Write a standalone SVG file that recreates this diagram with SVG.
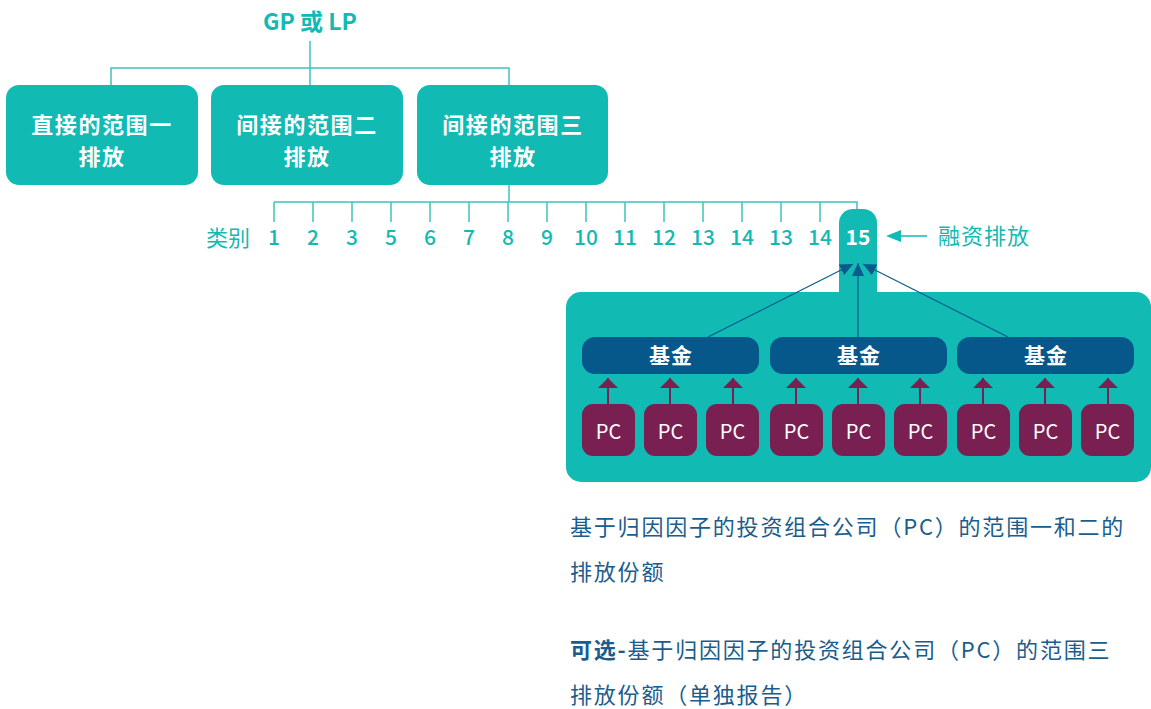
<svg xmlns="http://www.w3.org/2000/svg" width="1151" height="709" viewBox="0 0 1151 709">
<style>
text{font-family:"Noto Sans CJK SC","Noto Sans",sans-serif;}
.tl{fill:none;stroke:#3FC2BC;stroke-width:1.5;}
.box{fill:#12BAB4;}
.bt{fill:#fff;font-size:22px;font-weight:700;letter-spacing:1.6px;text-anchor:middle;dominant-baseline:central;}
.num{fill:#12BAB4;font-size:21px;font-weight:500;text-anchor:middle;}
.fund{fill:#06578A;}
.ft{fill:#fff;font-size:21px;font-weight:700;letter-spacing:1px;text-anchor:middle;dominant-baseline:central;}
.pc{fill:#7A1F52;}
.pt{fill:#fff;font-size:20px;text-anchor:middle;dominant-baseline:central;}
.pa{stroke:#7A1F52;stroke-width:2;}
.ba{stroke:#0A5A8C;stroke-width:1.2;fill:none;}
.note{fill:#1A5D8D;font-size:22px;letter-spacing:1.8px;dominant-baseline:central;}
</style>
<defs>
<marker id="ah" markerUnits="userSpaceOnUse" markerWidth="13" markerHeight="12" refX="13" refY="6" orient="auto"><path d="M0,0 L13,6 L0,12 z" fill="#0A5A8C"/></marker>
<marker id="pa" markerUnits="userSpaceOnUse" markerWidth="10" markerHeight="20" refX="10" refY="10" orient="auto"><path d="M0,0 L10,10 L0,20 z" fill="#7A1F52"/></marker>
</defs>
<g id="title"><text x="310" y="30" text-anchor="middle" font-size="23" font-weight="700" fill="#12BAB4">GP 或 LP</text></g>
<g id="connectors">
<path class="tl" d="M310,41 V86 M111,86 V68 H509 V86 M509,185 V202 M274,202 H857 V210"/>
<path class="tl" d="M274,202 V222 M313,202 V222 M352,202 V222 M391,202 V222 M430,202 V222 M469,202 V222 M508,202 V222 M547,202 V222 M586,202 V222 M625,202 V222 M664,202 V222 M703,202 V222 M742,202 V222 M781,202 V222 M820,202 V222"/>
<line x1="927" y1="236" x2="900" y2="236" stroke="#12BAB4" stroke-width="1.5"/>
<path d="M886,236 L901,230 L901,242 z" fill="#12BAB4"/>
</g>
<g id="scope1"><rect class="box" x="6" y="85" width="192" height="100" rx="13"/><text class="bt" x="102" y="123">直接的范围一</text><text class="bt" x="102" y="155">排放</text></g>
<g id="scope2"><rect class="box" x="211" y="85" width="192" height="100" rx="13"/><text class="bt" x="307" y="123">间接的范围二</text><text class="bt" x="307" y="155">排放</text></g>
<g id="scope3"><rect class="box" x="417" y="85" width="191" height="100" rx="13"/><text class="bt" x="513" y="123">间接的范围三</text><text class="bt" x="513" y="155">排放</text></g>
<g id="categories">
<text x="206" y="236" font-size="22" fill="#12BAB4" dominant-baseline="central">类别</text>
<text class="num" x="274" y="245">1</text><text class="num" x="313" y="245">2</text><text class="num" x="352" y="245">3</text><text class="num" x="391" y="245">5</text><text class="num" x="430" y="245">6</text><text class="num" x="469" y="245">7</text><text class="num" x="508" y="245">8</text><text class="num" x="547" y="245">9</text><text class="num" x="586" y="245">10</text><text class="num" x="625" y="245">11</text><text class="num" x="664" y="245">12</text><text class="num" x="703" y="245">13</text><text class="num" x="742" y="245">14</text><text class="num" x="781" y="245">13</text><text class="num" x="820" y="245">14</text>
</g>
<g id="financed">
<rect class="box" x="566" y="292" width="585" height="190" rx="15"/>
<path class="box" d="M839,300 V223 A14,14 0 0 1 853,209 H863 A14,14 0 0 1 877,223 V300 Z"/>
<text x="858" y="245" text-anchor="middle" font-size="21" font-weight="700" fill="#fff">15</text>
</g>
<g id="label-financed"><text x="938" y="234" font-size="22" letter-spacing="1" fill="#12BAB4" dominant-baseline="central">融资排放</text></g>
<g id="fund-arrows">
<line class="ba" x1="708" y1="337" x2="853" y2="264" marker-end="url(#ah)"/>
<line class="ba" x1="858" y1="337" x2="858" y2="263" marker-end="url(#ah)"/>
<line class="ba" x1="1008" y1="337" x2="863" y2="264" marker-end="url(#ah)"/>
</g>
<g id="fund1"><rect class="fund" x="582" y="337" width="177" height="37" rx="13"/><text class="ft" x="671" y="354">基金</text></g>
<g id="fund2"><rect class="fund" x="770" y="337" width="177" height="37" rx="13"/><text class="ft" x="859" y="354">基金</text></g>
<g id="fund3"><rect class="fund" x="957" y="337" width="177" height="37" rx="13"/><text class="ft" x="1046" y="354">基金</text></g>
<g id="pc-arrows">
<line class="pa" x1="608" y1="404" x2="608" y2="378" marker-end="url(#pa)"/>
<line class="pa" x1="670" y1="404" x2="670" y2="378" marker-end="url(#pa)"/>
<line class="pa" x1="733" y1="404" x2="733" y2="378" marker-end="url(#pa)"/>
<line class="pa" x1="796" y1="404" x2="796" y2="378" marker-end="url(#pa)"/>
<line class="pa" x1="858" y1="404" x2="858" y2="378" marker-end="url(#pa)"/>
<line class="pa" x1="920" y1="404" x2="920" y2="378" marker-end="url(#pa)"/>
<line class="pa" x1="983" y1="404" x2="983" y2="378" marker-end="url(#pa)"/>
<line class="pa" x1="1045" y1="404" x2="1045" y2="378" marker-end="url(#pa)"/>
<line class="pa" x1="1108" y1="404" x2="1108" y2="378" marker-end="url(#pa)"/>
</g>
<g id="pc1"><rect class="pc" x="582" y="404" width="53" height="52" rx="11"/><text class="pt" x="608.5" y="430">PC</text></g>
<g id="pc2"><rect class="pc" x="644" y="404" width="53" height="52" rx="11"/><text class="pt" x="670.5" y="430">PC</text></g>
<g id="pc3"><rect class="pc" x="706" y="404" width="53" height="52" rx="11"/><text class="pt" x="732.5" y="430">PC</text></g>
<g id="pc4"><rect class="pc" x="770" y="404" width="53" height="52" rx="11"/><text class="pt" x="796.5" y="430">PC</text></g>
<g id="pc5"><rect class="pc" x="832" y="404" width="53" height="52" rx="11"/><text class="pt" x="858.5" y="430">PC</text></g>
<g id="pc6"><rect class="pc" x="894" y="404" width="53" height="52" rx="11"/><text class="pt" x="920.5" y="430">PC</text></g>
<g id="pc7"><rect class="pc" x="957" y="404" width="53" height="52" rx="11"/><text class="pt" x="983.5" y="430">PC</text></g>
<g id="pc8"><rect class="pc" x="1019" y="404" width="53" height="52" rx="11"/><text class="pt" x="1045.5" y="430">PC</text></g>
<g id="pc9"><rect class="pc" x="1081" y="404" width="53" height="52" rx="11"/><text class="pt" x="1107.5" y="430">PC</text></g>
<g id="notes">
<text class="note" x="570" y="525">基于归因因子的投资组合公司（PC）的范围一和二的</text>
<text class="note" x="570" y="570">排放份额</text>
<text class="note" x="570" y="648"><tspan font-weight="700">可选-</tspan>基于归因因子的投资组合公司（PC）的范围三</text>
<text class="note" x="570" y="693">排放份额（单独报告）</text>
</g>
</svg>
